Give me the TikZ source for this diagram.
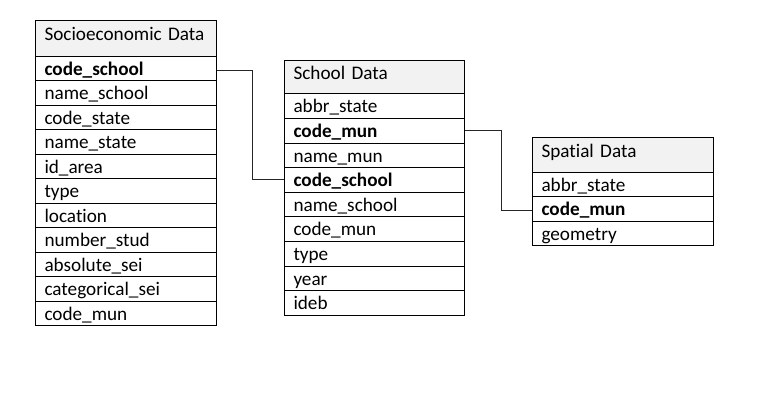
\documentclass[tikz,border=0pt]{standalone}
\usepackage{fontspec}
\setmainfont{Carlito}[Ligatures={NoCommon}]
\definecolor{hdrfill}{RGB}{242,242,242}
\begin{document}
\begin{tikzpicture}[x=1pt,y=-1pt,
  font=\fontsize{19.2}{23}\selectfont,
  cell/.style={draw=black, line width=1pt, anchor=north west, minimum width=#1,
    minimum height=24.45pt, inner xsep=9pt, inner ysep=0pt, text width=#1-18pt,
    align=left, text height=15pt, text depth=1.4pt},
  cell/.default=181pt,
  hdr/.style={cell=#1, fill=hdrfill, text height=8pt, text depth=3pt},
  hdr/.default=181pt,
  key/.style={font=\fontsize{19.2}{23}\selectfont\bfseries},
  link/.style={draw=black!85, line width=1pt}]
\useasboundingbox (0,0) rectangle (769,404);
% Socioeconomic Data
\node[hdr, minimum height=36pt] (sh) at (35,20) {Socioeconomic Data};
\node[cell,key] (s1) at (35,56) {code\_school};
\node[cell] (s2) at (35,80.45) {name\_school};
\node[cell] (s3) at (35,104.9) {code\_state};
\node[cell] (s4) at (35,129.35) {name\_state};
\node[cell] (s5) at (35,153.8) {id\_area};
\node[cell] (s6) at (35,178.25) {type};
\node[cell] (s7) at (35,202.7) {location};
\node[cell] (s8) at (35,227.15) {number\_stud};
\node[cell] (s9) at (35,251.6) {absolute\_sei};
\node[cell] (s10) at (35,276.05) {categorical\_sei};
\node[cell] (s11) at (35,300.5) {code\_mun};
% School Data
\node[hdr=180pt, minimum height=33.3pt] (dh) at (284,60) {School Data};
\node[cell=180pt, minimum height=24.6pt] (d1) at (284,93.3) {abbr\_state};
\node[cell=180pt, minimum height=24.6pt,key] (d2) at (284,117.9) {code\_mun};
\node[cell=180pt, minimum height=24.6pt] (d3) at (284,142.5) {name\_mun};
\node[cell=180pt, minimum height=24.6pt,key] (d4) at (284,167.1) {code\_school};
\node[cell=180pt, minimum height=24.6pt] (d5) at (284,191.7) {name\_school};
\node[cell=180pt, minimum height=24.6pt] (d6) at (284,216.3) {code\_mun};
\node[cell=180pt, minimum height=24.6pt] (d7) at (284,240.9) {type};
\node[cell=180pt, minimum height=24.6pt] (d8) at (284,265.5) {year};
\node[cell=180pt, minimum height=24.6pt] (d9) at (284,290.1) {ideb};
% Spatial Data
\node[hdr, minimum height=34.4pt] (ph) at (532,137.3) {Spatial Data};
\node[cell, minimum height=24.4pt] (p1) at (532,171.7) {abbr\_state};
\node[cell, minimum height=24.4pt,key] (p2) at (532,196.1) {code\_mun};
\node[cell, minimum height=24.4pt] (p3) at (532,220.5) {geometry};
% connectors
\draw[link] ([yshift=-1.5pt]s1.east) -- ++(35,0) |- (d4.west);
\draw[link] (d2.east) -- ++(36,0) |- ([yshift=-2pt]p2.west);
\end{tikzpicture}
\end{document}
